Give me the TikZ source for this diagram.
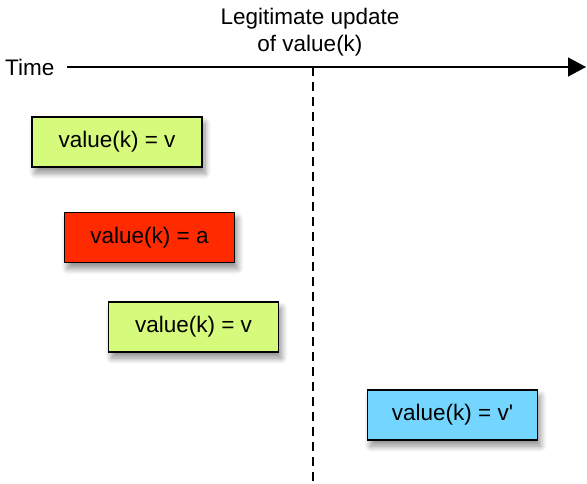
\documentclass[tikz,border=0pt]{standalone}
\usepackage{fontspec}
\setmainfont{Liberation Sans}
\usetikzlibrary{shadows.blur,arrows.meta}
\definecolor{vgreen}{RGB}{213,250,124}
\definecolor{vred}{RGB}{255,42,0}
\definecolor{vblue}{RGB}{116,214,255}
\tikzset{
  valbox/.style={draw=black, line width=1.5pt, minimum width=170pt, minimum height=50pt,
    inner sep=0pt, font=\fontsize{22.5}{27}\selectfont,
    blur shadow={shadow xshift=3pt, shadow yshift=-6pt, shadow blur radius=6pt, shadow blur steps=10, shadow opacity=45}},
  lbl/.style={font=\fontsize{22.5}{27}\selectfont, inner sep=0pt},
}
\begin{document}
\begin{tikzpicture}[x=1pt,y=-1pt]
\useasboundingbox (0,0) rectangle (587,483);
\node[lbl, anchor=west] (time) at (5,67) {Time};
\coordinate (tend) at (586,67);
\coordinate (astart) at (67,67);
\draw[line width=1.5pt, -{Triangle[length=18pt,width=19pt]}] (astart) -- (tend);
\node[lbl, align=center] (upd) at (310,32) {Legitimate update\\of value(k)};
\coordinate (dtop) at (313,67);
\coordinate (dbot) at (313,483);
\draw[line width=2pt, dash pattern=on 9pt off 6pt] (dtop) -- (dbot);
\node[valbox, fill=vgreen] (b1) at (117,142) {value(k) = v};
\node[valbox, fill=vred] (b2) at (149.5,237.5) {value(k) = a};
\node[valbox, fill=vgreen] (b3) at (193.5,327) {value(k) = v};
\node[valbox, fill=vblue] (b4) at (452.5,415) {value(k) = v\textquotesingle};
\end{tikzpicture}
\end{document}
